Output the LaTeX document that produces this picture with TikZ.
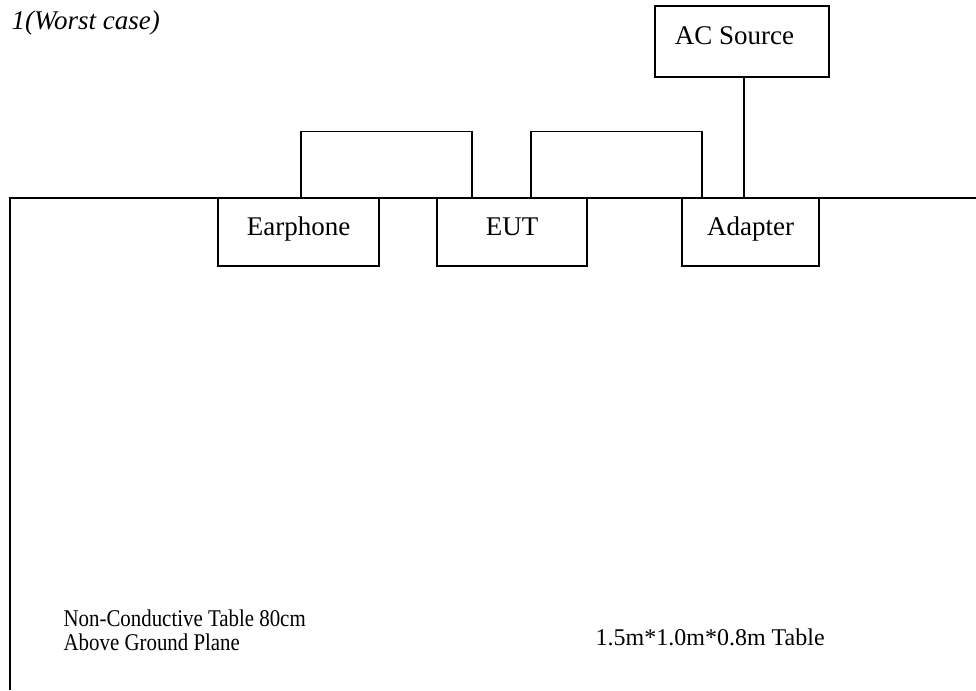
\documentclass[tikz,border=0pt]{standalone}
\usepackage{fontspec}
\setmainfont{Liberation Serif}
\tikzset{
  unit/.style={draw, line width=1.3pt, inner sep=0pt, text height=19pt, text depth=13pt,
    font=\fontsize{27}{30}\selectfont},
  note/.style={font=\fontsize{24}{24}\selectfont, inner sep=0pt}
}
\begin{document}
\begin{tikzpicture}[x=1pt, y=-1pt, line width=1.3pt]
      \useasboundingbox (0,0) rectangle (976,690);
      \node[unit, minimum width=174pt, minimum height=71pt] (acsrc) at (742,41.5) {\hspace*{-15pt}AC Source};
      \node[unit, minimum width=161pt, minimum height=68pt] (earphone) at (298.5,232) {Earphone};
      \node[unit, minimum width=150pt, minimum height=68pt] (eut) at (512,232) {EUT};
      \node[unit, minimum width=137pt, minimum height=68pt] (adapter) at (750.5,232) {Adapter};
      \node[anchor=base west, inner sep=0pt, font=\fontsize{27}{30}\selectfont\itshape] (title) at (11,30) {1(Worst case)};
      \node[note, anchor=base west, align=left] (plane) at (63,650)
        {\scalebox{0.87}[1]{Non-Conductive Table 80cm}\\\scalebox{0.87}[1]{Above Ground Plane}};
      \node[note, anchor=base west] (size) at (595,645) {1.5m*1.0m*0.8m Table};
      \begin{scope}[-]
        \draw (10,690) -- (10,198) -- (976,198);
        \draw ([xshift=2.5pt]earphone.north) -- ++(0,-66) -| ([xshift=-40pt]eut.north);
        \draw ([xshift=19pt]eut.north) -- ++(0,-66) -| ([xshift=-48.5pt]adapter.north);
        \draw (acsrc.south) ++(2pt,0) -- ([xshift=-6.5pt]adapter.north);
      \end{scope}
    \end{tikzpicture}
\end{document}
